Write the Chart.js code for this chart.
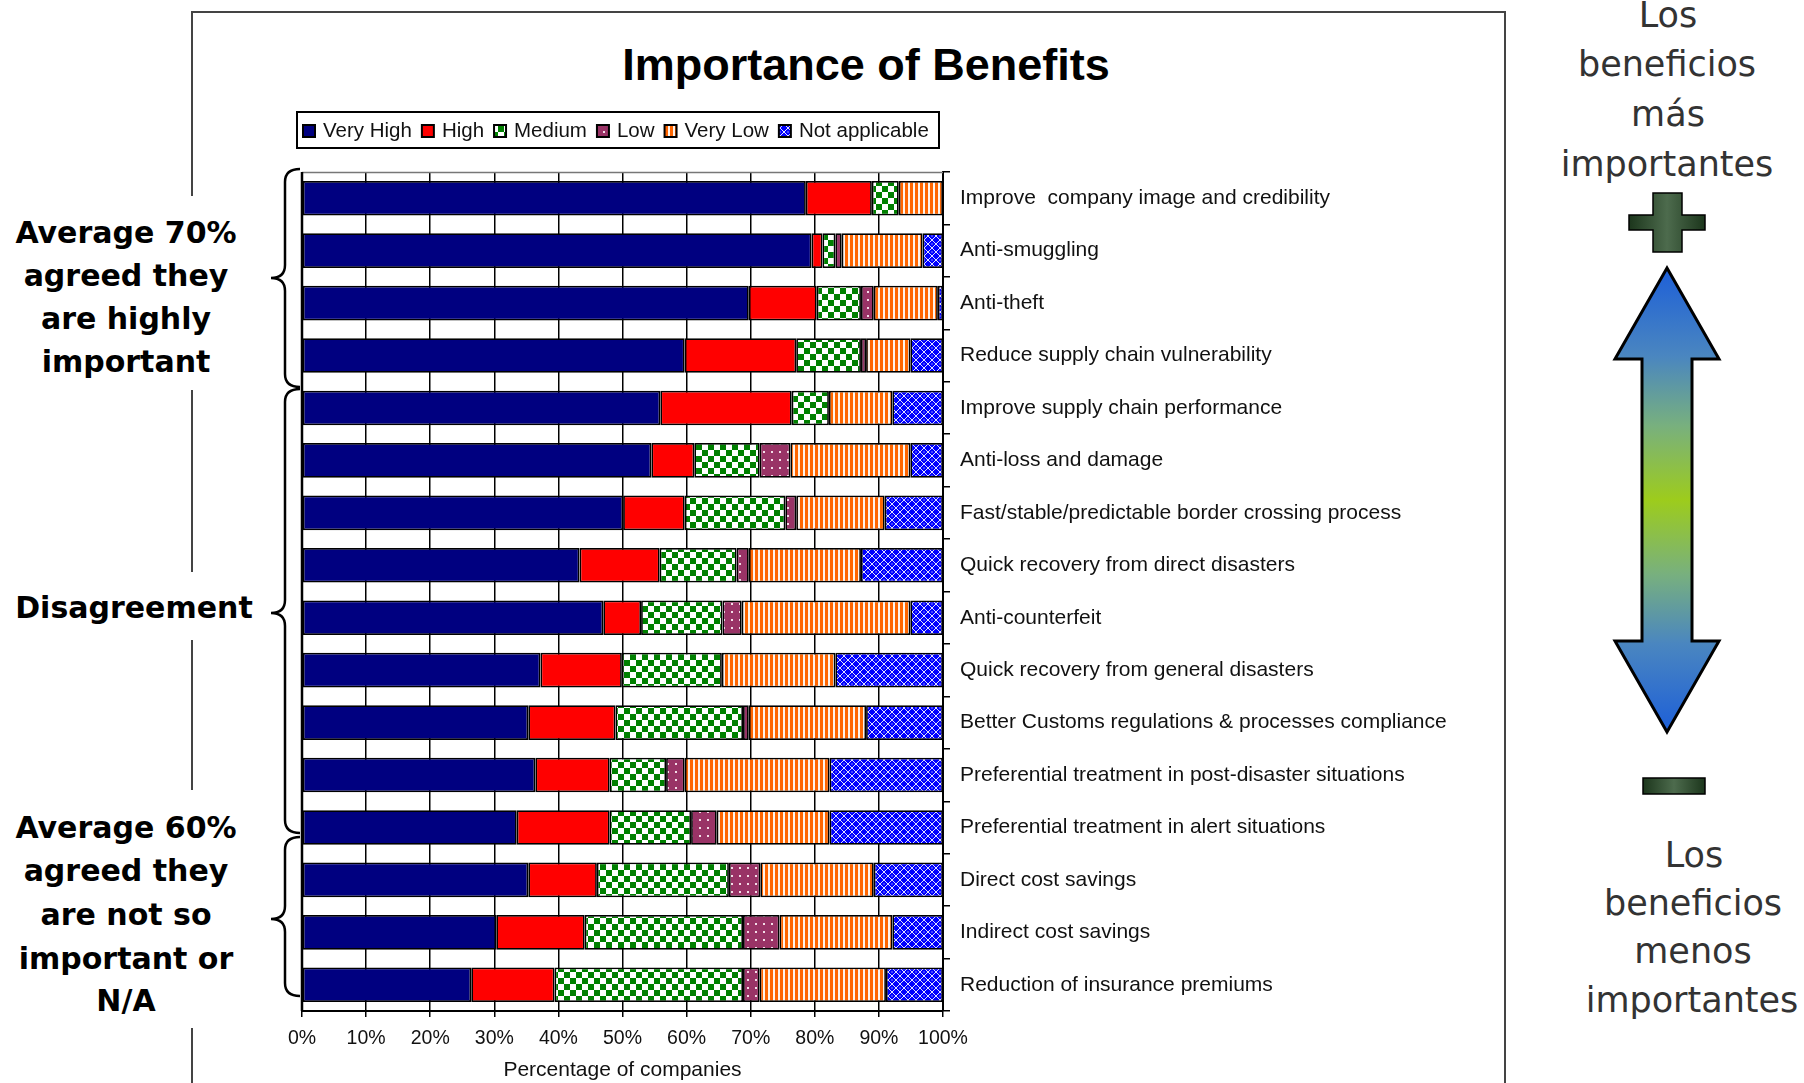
<!DOCTYPE html>
<html lang="en">
<head>
    <meta charset="UTF-8">
    <title>Importance of Benefits</title>
    <script src="https://cdn.jsdelivr.net/npm/chart.js"></script>
    <style>
        body { margin: 0; background: #fff; width: 1804px; height: 1083px; overflow: hidden; position: relative; }
        #deco { position: absolute; left: 0; top: 0; }
        #benefitsChart { position: absolute; left: 0; top: 0; }
    </style>
</head>
<body>

<svg id="deco" width="1804" height="1083" xmlns="http://www.w3.org/2000/svg">
    <defs>
        <linearGradient id="arrowFill" x1="0" y1="268" x2="0" y2="732" gradientUnits="userSpaceOnUse">
            <stop offset="0" stop-color="#1d5fd8"/>
            <stop offset="0.19" stop-color="#4a86c0"/>
            <stop offset="0.34" stop-color="#78b07e"/>
            <stop offset="0.5" stop-color="#9dcc1c"/>
            <stop offset="0.66" stop-color="#78b07e"/>
            <stop offset="0.81" stop-color="#4a86c0"/>
            <stop offset="1" stop-color="#1d5fd8"/>
        </linearGradient>
        <linearGradient id="signFill" x1="0" y1="0" x2="1" y2="0">
            <stop offset="0" stop-color="#1c361c"/>
            <stop offset="0.5" stop-color="#4d6b4d"/>
            <stop offset="1" stop-color="#1c361c"/>
        </linearGradient>
    </defs>

    <!-- outer frame -->
    <polyline points="192,1090 192,12 1505,12 1505,1090" fill="none" stroke="#444" stroke-width="2"/>

    <!-- white patches behind the left notes -->
    <rect x="8" y="196" width="262" height="194" fill="#fff"/>
    <rect x="8" y="572" width="262" height="68" fill="#fff"/>
    <rect x="8" y="790" width="262" height="238" fill="#fff"/>

    <text x="866" y="80" text-anchor="middle" font-family="'Liberation Sans', Arial, sans-serif" font-weight="bold" font-size="45" fill="#000">Importance of Benefits</text>

    <g font-family="'DejaVu Sans', Verdana, sans-serif" font-weight="bold" font-size="30" fill="#000" text-anchor="middle">
        <text x="126" y="243">Average 70%</text>
        <text x="126" y="286">agreed they</text>
        <text x="126" y="329">are highly</text>
        <text x="126" y="372">important</text>
        <text x="134" y="618">Disagreement</text>
        <text x="126" y="838">Average 60%</text>
        <text x="126" y="881">agreed they</text>
        <text x="126" y="925">are not so</text>
        <text x="126" y="969">important or</text>
        <text x="126" y="1011">N/A</text>
    </g>

    <!-- braces -->
    <g fill="none" stroke="#000" stroke-width="2.5">
        <path d="M300,169 Q285,169 285,182 L285,265 Q285,278 271,278 Q285,278 285,291 L285,374 Q285,387 300,387"/>
        <path d="M300,389 Q285,389 285,402 L285,600 Q285,613 271,613 Q285,613 285,626 L285,820 Q285,833 300,833"/>
        <path d="M300,837 Q285,837 285,850 L285,906 Q285,919 271,919 Q285,919 285,932 L285,983 Q285,996 300,996"/>
    </g>

    <g font-family="'DejaVu Sans', Verdana, sans-serif" font-size="35" fill="#333" text-anchor="middle">
        <text x="1668" y="27">Los</text>
        <text x="1667" y="76">beneficios</text>
        <text x="1668" y="126">más</text>
        <text x="1667" y="176">importantes</text>
        <text x="1694" y="867">Los</text>
        <text x="1693" y="915">beneficios</text>
        <text x="1693" y="963">menos</text>
        <text x="1692" y="1012">importantes</text>
    </g>

    <!-- plus / arrow / minus -->
    <path d="M1653,193 L1682,193 L1682,215 L1705,215 L1705,230 L1682,230 L1682,252 L1653,252 L1653,230 L1629,230 L1629,215 L1653,215 Z"
          fill="url(#signFill)" stroke="#000" stroke-width="1.5"/>
    <path d="M1667,268 L1719,359 L1692,359 L1692,641 L1719,641 L1667,732 L1615,641 L1642,641 L1642,359 L1615,359 Z"
          fill="url(#arrowFill)" stroke="#000" stroke-width="3" stroke-linejoin="miter"/>
    <rect x="1643" y="778" width="62" height="16" fill="url(#signFill)" stroke="#000" stroke-width="1.5"/>
</svg>

<canvas id="benefitsChart" width="1804" height="1083"></canvas>

<script>
const categories = [
    'Improve  company image and credibility',
    'Anti-smuggling',
    'Anti-theft',
    'Reduce supply chain vulnerability',
    'Improve supply chain performance',
    'Anti-loss and damage',
    'Fast/stable/predictable border crossing process',
    'Quick recovery from direct disasters',
    'Anti-counterfeit',
    'Quick recovery from general disasters',
    'Better Customs regulations & processes compliance',
    'Preferential treatment in post-disaster situations',
    'Preferential treatment in alert situations',
    'Direct cost savings',
    'Indirect cost savings',
    'Reduction of insurance premiums'
];

const veryHigh      = [78.6, 79.5, 69.7, 59.7, 55.9, 54.5, 50.1, 43.3, 47.0, 37.2, 35.3, 36.4, 33.5, 35.3, 30.3, 26.4];
const high          = [10.3,  1.7, 10.6, 17.4, 20.5,  6.7,  9.6, 12.5,  5.9, 12.7, 13.6, 11.6, 14.5, 10.7, 13.8, 13.0];
const medium        = [ 4.2,  2.0,  6.9, 10.1,  5.8, 10.2, 15.7, 12.0, 12.7, 15.6, 19.9,  8.8, 12.7, 20.6, 24.7, 29.4];
const low           = [ 0.0,  1.0,  2.0,  0.8,  0.0,  4.8,  1.7,  1.9,  3.0,  0.0,  0.9,  2.9,  4.0,  4.9,  5.7,  2.6];
const veryLow       = [ 6.9, 12.6, 10.0,  6.9,  9.9, 18.7, 13.8, 17.5, 26.3, 17.7, 18.3, 22.6, 17.6, 17.7, 17.6, 19.7];
const notApplicable = [ 0.0,  3.2,  0.8,  5.1,  7.9,  5.1,  9.1, 12.8,  5.1, 16.8, 12.0, 17.7, 17.7, 10.8,  7.9,  8.9];

const seriesNames = ['Very High', 'High', 'Medium', 'Low', 'Very Low', 'Not applicable'];
const xTickValues = [0, 10, 20, 30, 40, 50, 60, 70, 80, 90, 100];

// small fill patterns like the old spreadsheet hatching
function makePattern(w, h, paint) {
    const c = document.createElement('canvas');
    c.width = w; c.height = h;
    const g = c.getContext('2d');
    paint(g);
    return g.createPattern(c, 'repeat');
}

const checkGreen = makePattern(12, 12, g => {
    g.fillStyle = '#fff'; g.fillRect(0, 0, 12, 12);
    g.fillStyle = '#008000';
    g.fillRect(0, 0, 6, 6); g.fillRect(6, 6, 6, 6);
});
const dotPurple = makePattern(8, 8, g => {
    g.fillStyle = '#993366'; g.fillRect(0, 0, 8, 8);
    g.fillStyle = '#f4dde8'; g.fillRect(3, 3, 2, 2);
});
const stripeOrange = makePattern(5, 4, g => {
    g.fillStyle = '#ff6600'; g.fillRect(0, 0, 5, 4);
    g.fillStyle = '#fff3ea'; g.fillRect(3, 0, 2, 4);
});
const latticeBlue = makePattern(8, 8, g => {
    g.fillStyle = '#0000ff'; g.fillRect(0, 0, 8, 8);
    g.strokeStyle = '#e0e0ff'; g.lineWidth = 1;
    g.beginPath();
    g.moveTo(4, 0); g.lineTo(8, 4); g.lineTo(4, 8); g.lineTo(0, 4); g.closePath();
    g.stroke();
    g.fillStyle = '#fff'; g.fillRect(3.5, 3.5, 1, 1);
});

const fills = ['#000080', '#ff0000', checkGreen, dotPurple, stripeOrange, latticeBlue];
const values = [veryHigh, high, medium, low, veryLow, notApplicable];

const datasets = seriesNames.map((name, i) => ({
    label: name,
    data: values[i],
    backgroundColor: fills[i],
    borderColor: '#000',
    borderWidth: 1.75,
    borderSkipped: false,
    categoryPercentage: 0.66,
    barPercentage: 1
}));

const chartFont = "'Liberation Sans', Arial, sans-serif";

// plot top/left border and the boxed legend
const framePlugin = {
    id: 'frameAndLegend',
    afterDraw(chart) {
        const ctx = chart.ctx;
        const a = chart.chartArea;
        ctx.save();
        ctx.strokeStyle = '#777';
        ctx.lineWidth = 1.5;
        ctx.beginPath();
        ctx.moveTo(a.left, a.top + 0.5);
        ctx.lineTo(a.right, a.top + 0.5);
        ctx.stroke();
        ctx.strokeStyle = '#000';
        ctx.lineWidth = 2.5;
        ctx.beginPath();
        ctx.moveTo(a.left, a.top);
        ctx.lineTo(a.left, a.bottom);
        ctx.stroke();

        // legend
        const box = {x: 297, y: 112, w: 642, h: 36};
        ctx.fillStyle = '#fff';
        ctx.fillRect(box.x, box.y, box.w, box.h);
        ctx.strokeStyle = '#000';
        ctx.lineWidth = 2;
        ctx.strokeRect(box.x, box.y, box.w, box.h);
        ctx.font = '20.5px ' + chartFont;
        ctx.textBaseline = 'middle';
        const cy = box.y + box.h / 2 + 1;
        let x = box.x + 6;
        chart.data.datasets.forEach(ds => {
            ctx.fillStyle = ds.backgroundColor;
            ctx.fillRect(x, cy - 6, 12, 12);
            ctx.strokeStyle = '#000';
            ctx.lineWidth = 2;
            ctx.strokeRect(x, cy - 6, 12, 12);
            x += 12 + 8;
            ctx.fillStyle = '#111';
            ctx.fillText(ds.label, x, cy);
            x += ctx.measureText(ds.label).width + 10;
        });
        ctx.restore();
    }
};

const ctx = document.getElementById('benefitsChart').getContext('2d');
new Chart(ctx, {
    type: 'bar',
    data: { labels: categories, datasets: datasets },
    options: {
        indexAxis: 'y',
        responsive: false,
        animation: false,
        devicePixelRatio: 1,
        layout: { padding: { left: 302, top: 172, right: 0, bottom: 0 } },
        plugins: {
            legend: { display: false },
            tooltip: { enabled: false }
        },
        scales: {
            x: {
                stacked: true,
                min: 0,
                max: 100,
                afterBuildTicks: axis => { axis.ticks = xTickValues.map(v => ({ value: v })); },
                afterFit: axis => { axis.height = 72; },
                ticks: {
                    callback: v => v + '%',
                    color: '#111',
                    font: { family: chartFont, size: 19.5 },
                    padding: 10,
                    maxRotation: 0
                },
                grid: { color: '#000', lineWidth: 1.5, tickLength: 6 },
                border: { color: '#000', width: 2 },
                title: {
                    display: true,
                    text: 'Percentage of companies',
                    color: '#111',
                    font: { family: chartFont, size: 21 },
                    padding: { top: 4, bottom: 0 }
                }
            },
            y: {
                stacked: true,
                position: 'right',
                afterFit: axis => { axis.width = 861; },
                ticks: {
                    autoSkip: false,
                    color: '#111',
                    font: { family: chartFont, size: 21 },
                    padding: 10
                },
                grid: { offset: true, drawOnChartArea: false, color: '#000', lineWidth: 1.5, tickLength: 7 },
                border: { color: '#000', width: 2 }
            }
        }
    },
    plugins: [framePlugin]
});
</script>
</body>
</html>
